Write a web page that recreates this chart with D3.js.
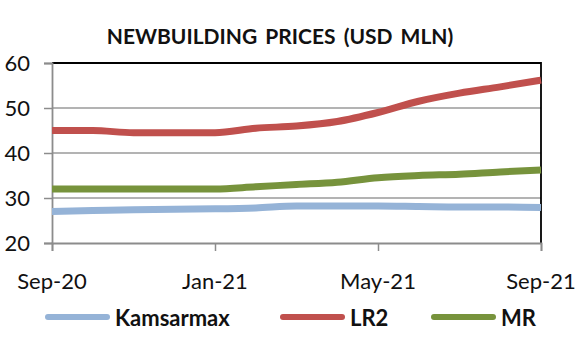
<!DOCTYPE html>
<html>
<head>
<meta charset="utf-8">
<script src="https://cdn.jsdelivr.net/npm/d3@7"></script>
<style>
  body { margin: 0; background: #fff; }
  svg { display: block; font-family: Lato, "Open Sans", sans-serif; }
</style>
</head>
<body>
<svg id="chart" width="584" height="354"></svg>
<script>
const months = ['Sep-20', 'Oct-20', 'Nov-20', 'Dec-20', 'Jan-21', 'Feb-21', 'Mar-21',
  'Apr-21', 'May-21', 'Jun-21', 'Jul-21', 'Aug-21', 'Sep-21'];
const kamsarmax = [27, 27.2, 27.4, 27.5, 27.6, 27.8, 28.2, 28.2, 28.2, 28.1, 28, 28, 27.9];
const lr2 = [45, 45, 44.5, 44.5, 44.5, 45.5, 46, 47, 49, 51.5, 53.3, 54.7, 56.2];
const mr = [32, 32, 32, 32, 32, 32.5, 33, 33.5, 34.5, 35, 35.3, 35.8, 36.2];
const tickLabels = ['Sep-20', 'Jan-21', 'May-21', 'Sep-21'];
const yTicks = [20, 30, 40, 50, 60];

const series = [
  { name: 'Kamsarmax', values: kamsarmax, color: '#95b3d7' },
  { name: 'LR2', values: lr2, color: '#c0504d' },
  { name: 'MR', values: mr, color: '#77933c' }
];

const svg = d3.select('#chart');
const plot = { left: 52, right: 541, top: 63, bottom: 243 };

const x = d3.scaleLinear().domain([0, months.length - 1]).range([plot.left, plot.right]);
const y = d3.scaleLinear().domain([20, 60]).range([plot.bottom, plot.top]);

svg.append('text')
  .attr('x', 280).attr('y', 44)
  .attr('text-anchor', 'middle')
  .style('font-weight', 'bold').style('font-size', '21px')
  .style('word-spacing', '3px')
  .attr('fill', '#111')
  .text('NEWBUILDING  PRICES (USD MLN)');

// gridlines
svg.append('g').selectAll('line').data(yTicks.filter(d => d > 20 && d < 60))
  .join('line')
  .attr('x1', plot.left).attr('x2', plot.right)
  .attr('y1', d => y(d)).attr('y2', d => y(d))
  .attr('stroke', '#9a9a9a').attr('stroke-width', 1.5);

// frame: top and right in black
svg.append('path')
  .attr('d', `M${plot.left},${y(60)}H${plot.right}V${plot.bottom}`)
  .attr('fill', 'none').attr('stroke', '#000').attr('stroke-width', 1.8);

// y axis
const yAxis = svg.append('g')
  .attr('transform', `translate(${plot.left},0)`)
  .call(d3.axisLeft(y).tickValues(yTicks).tickSize(8).tickPadding(14));
yAxis.select('.domain').attr('stroke', '#8c8c8c').attr('stroke-width', 1.8);
yAxis.selectAll('.tick line').attr('stroke', '#8c8c8c').attr('stroke-width', 1.5);
yAxis.selectAll('.tick text')
  .style('font-size', '22px').style('font-family', 'Lato, sans-serif')
  .attr('fill', '#111').attr('dy', '0.36em');

// x axis
const tickIdx = tickLabels.map(t => months.indexOf(t));
const xAxis = svg.append('g')
  .attr('transform', `translate(0,${plot.bottom})`)
  .call(d3.axisBottom(x).tickValues(tickIdx).tickSize(8).tickFormat(''));
xAxis.select('.domain').attr('stroke', '#8c8c8c').attr('stroke-width', 1.8);
xAxis.selectAll('.tick line').attr('stroke', '#8c8c8c').attr('stroke-width', 1.5);

svg.append('g').selectAll('text').data(tickIdx)
  .join('text')
  .attr('x', d => x(d)).attr('y', 289)
  .attr('text-anchor', 'middle')
  .style('font-size', '22px').attr('fill', '#111')
  .text(d => months[d]);

// lines
const line = d3.line().x((d, i) => x(i)).y(d => y(d)).curve(d3.curveMonotoneX);
svg.append('g').selectAll('path').data(series)
  .join('path')
  .attr('d', d => line(d.values))
  .attr('fill', 'none')
  .attr('stroke', d => d.color)
  .attr('stroke-width', 7);

// legend
const legendX = [45, 280, 431];
const legend = svg.append('g').selectAll('g').data(series)
  .join('g')
  .attr('transform', (d, i) => `translate(${legendX[i]},317)`);
legend.append('line')
  .attr('x1', 3).attr('x2', 62)
  .attr('stroke', d => d.color).attr('stroke-width', 6)
  .attr('stroke-linecap', 'round');
legend.append('text')
  .attr('x', 70).attr('y', 9)
  .style('font-weight', 'bold').style('font-size', '22px')
  .attr('fill', '#111')
  .text(d => d.name);
</script>
</body>
</html>
